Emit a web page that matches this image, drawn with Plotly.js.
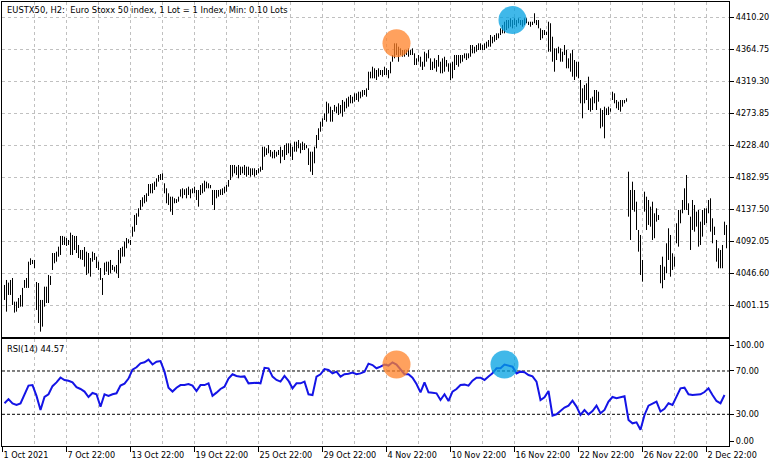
<!DOCTYPE html>
<html><head><meta charset="utf-8">
<script src="https://cdn.plot.ly/plotly-3.0.1.min.js"></script>
<style>html,body{margin:0;padding:0;background:#fff;overflow:hidden}#chart{width:781px;height:467px}</style>
</head><body><div id="chart"></div>
<script>
// H2 bars, high / low per bar (index = bar number)
const highs = [
4029.6,4036.7,4032.9,4036.7,4039.5,4005.9,4005.9,4011.1,4015.4,4025.4,
4036.7,4039.5,4062.7,4067.5,4065.1,4065.1,4033.8,4032.4,4008.3,4008.3,
4027.2,4027.2,4043.8,4042.4,4075.0,4075.0,4076.9,4084.0,4099.2,4099.2,
4098.2,4096.3,4093.5,4103.9,4100.6,4099.2,4099.2,4086.4,4079.3,4079.3,
4083.5,4076.9,4075.0,4067.9,4076.9,4075.0,4069.8,4062.7,4053.7,4039.5,
4061.3,4062.7,4062.7,4065.1,4058.0,4055.6,4058.0,4079.3,4082.1,4084.0,
4091.1,4096.3,4094.5,4093.5,4112.4,4129.0,4131.4,4138.5,4150.3,4154.1,
4157.4,4159.8,4173.0,4173.0,4174.0,4176.3,4181.1,4185.8,4187.2,4188.2,
4174.0,4166.9,4159.8,4155.0,4155.0,4152.7,4151.5,4155.0,4165.5,4166.9,
4165.5,4166.9,4169.2,4165.5,4166.9,4169.2,4164.5,4164.5,4171.6,4174.0,
4177.7,4176.3,4174.0,4171.6,4164.5,4164.5,4164.5,4164.5,4165.5,4166.9,
4169.2,4171.6,4178.7,4200.0,4200.0,4200.0,4197.6,4200.0,4197.6,4197.6,
4200.0,4197.6,4197.6,4195.3,4195.3,4195.3,4192.9,4195.3,4197.6,4226.0,
4226.0,4223.7,4228.4,4221.3,4218.9,4221.3,4218.9,4221.3,4226.0,4221.3,
4228.4,4230.8,4230.8,4230.8,4226.0,4233.1,4233.1,4235.5,4230.8,4233.1,
4230.8,4228.4,4223.7,4218.9,4218.9,4226.0,4242.6,4252.1,4261.5,4266.3,
4273.4,4289.9,4287.6,4282.8,4278.1,4285.2,4282.8,4287.6,4285.2,4292.3,
4289.9,4294.7,4297.0,4299.4,4297.0,4301.8,4301.8,4304.1,4304.1,4306.5,
4306.5,4308.9,4332.5,4332.5,4339.6,4337.3,4334.9,4337.3,4334.9,4334.9,
4339.6,4337.3,4334.9,4346.7,4356.2,4372.8,4372.8,4368.0,4365.7,4363.3,
4363.3,4363.3,4365.7,4363.3,4365.7,4358.6,4351.5,4356.2,4353.8,4346.7,
4360.9,4358.6,4363.3,4351.5,4346.7,4351.5,4349.1,4356.2,4346.7,4351.5,
4353.8,4349.1,4344.4,4344.4,4346.7,4356.2,4356.2,4356.2,4356.2,4356.2,
4358.6,4358.6,4358.6,4370.4,4370.4,4368.0,4370.4,4372.8,4372.8,4370.4,
4372.8,4375.1,4377.5,4384.6,4382.2,4384.6,4387.0,4387.0,4394.1,4398.8,
4403.5,4405.9,4405.9,4408.4,4405.9,4408.4,4405.9,4408.4,4405.9,4405.9,
4408.4,4408.4,4403.5,4403.5,4403.5,4415.5,4405.9,4405.9,4394.1,4391.7,
4391.7,4389.3,4403.5,4401.3,4382.2,4365.7,4365.7,4368.0,4365.7,4360.9,
4370.4,4363.3,4351.5,4358.6,4363.3,4349.1,4346.7,4346.7,4320.7,4308.9,
4313.6,4316.0,4325.4,4294.7,4297.0,4306.5,4306.5,4304.1,4280.5,4278.1,
4282.8,4280.5,4282.8,4280.5,4304.1,4301.8,4292.3,4289.9,4292.3,4292.3,
4292.3,4294.7,4190.5,4164.5,4176.3,4164.5,4147.9,4107.7,4100.6,4065.1,
4162.1,4155.0,4150.3,4140.8,4147.9,4131.4,4138.5,4129.0,4058.0,4069.8,
4055.6,4088.8,4110.1,4100.6,4074.6,4069.8,4117.2,4136.1,4136.1,4150.3,
4166.9,4185.8,4145.6,4126.6,4150.3,4143.2,4133.7,4136.1,4119.5,4136.1,
4138.5,4138.5,4150.3,4152.7,4124.3,4112.4,4093.5,4081.7,4079.3,4086.4,
4119.5,4114.8];
const lows = [
4008.3,3991.7,4015.4,4015.4,4001.2,3990.3,3991.7,3996.9,3998.8,3998.8,
4025.4,4025.4,4025.4,4058.0,4059.4,4053.7,3994.1,3975.6,3963.3,3970.4,
3998.8,4004.0,4004.0,4029.6,4050.9,4060.4,4062.7,4069.8,4072.2,4086.4,
4086.4,4085.0,4086.4,4072.2,4072.2,4079.3,4075.0,4067.9,4066.1,4065.1,
4055.6,4043.8,4046.2,4041.4,4062.7,4065.1,4053.7,4050.9,4036.7,4015.4,
4043.8,4048.5,4043.8,4046.2,4050.9,4048.5,4046.2,4039.5,4060.4,4069.8,
4069.8,4081.7,4088.8,4086.4,4098.2,4105.3,4114.8,4126.6,4136.1,4140.8,
4145.6,4147.9,4156.0,4159.8,4159.8,4164.5,4169.2,4176.3,4178.7,4178.7,
4159.8,4145.6,4143.2,4133.7,4129.0,4145.6,4146.0,4147.9,4155.0,4152.7,
4157.4,4152.7,4157.4,4152.7,4159.8,4159.8,4150.3,4140.8,4157.4,4159.8,
4162.1,4166.9,4166.9,4166.9,4143.2,4136.1,4152.7,4155.0,4157.4,4157.4,
4159.8,4162.1,4169.2,4178.7,4183.4,4188.2,4185.8,4181.1,4185.8,4188.2,
4185.8,4183.4,4185.8,4183.4,4185.8,4183.4,4185.8,4188.2,4190.5,4192.9,
4211.8,4214.2,4216.6,4211.8,4209.5,4209.5,4211.8,4214.2,4202.4,4211.8,
4207.1,4214.2,4216.6,4211.8,4207.1,4218.9,4218.9,4223.7,4216.6,4221.3,
4221.3,4223.7,4200.0,4190.5,4185.8,4202.4,4223.7,4235.5,4247.3,4254.4,
4263.9,4261.5,4273.4,4261.5,4261.5,4275.7,4273.4,4271.0,4273.4,4268.6,
4275.7,4280.5,4282.8,4287.6,4287.6,4289.9,4292.3,4289.9,4294.7,4297.0,
4299.4,4297.0,4306.5,4323.1,4323.1,4323.1,4320.7,4325.4,4327.8,4325.4,
4327.8,4327.8,4323.1,4330.2,4346.7,4351.5,4356.2,4346.7,4356.2,4353.8,
4353.8,4356.2,4353.8,4356.2,4356.2,4342.0,4342.0,4346.7,4339.6,4334.9,
4339.6,4346.7,4351.5,4334.9,4334.9,4337.3,4332.5,4339.6,4330.2,4330.2,
4332.5,4339.6,4332.5,4320.7,4323.1,4334.9,4342.0,4339.6,4344.4,4346.7,
4351.5,4349.1,4351.5,4353.8,4358.6,4358.6,4360.9,4363.3,4363.3,4363.3,
4363.3,4365.7,4368.0,4368.0,4372.8,4375.1,4377.5,4379.9,4384.6,4387.0,
4387.0,4391.7,4394.1,4396.4,4394.1,4398.8,4396.4,4401.3,4398.8,4396.4,
4398.8,4401.3,4398.8,4396.4,4398.8,4401.3,4398.8,4394.1,4377.5,4379.9,
4384.6,4384.6,4360.9,4360.9,4346.7,4332.5,4349.1,4358.6,4346.7,4346.7,
4356.2,4337.3,4337.3,4332.5,4325.4,4320.7,4325.4,4323.1,4287.6,4266.3,
4287.6,4292.3,4278.1,4275.7,4278.1,4287.6,4278.1,4289.9,4252.1,4254.4,
4237.9,4271.0,4271.0,4275.7,4292.3,4287.6,4280.5,4278.1,4275.7,4282.8,
4287.6,4289.9,4126.6,4093.5,4136.1,4133.7,4107.7,4076.9,4043.8,4034.3,
4133.7,4107.7,4114.8,4112.4,4093.5,4096.0,4119.5,4121.9,4032.0,4024.9,
4036.7,4046.2,4065.1,4041.4,4050.9,4055.6,4088.8,4084.0,4117.2,4131.4,
4136.1,4136.1,4129.0,4079.3,4107.7,4105.3,4112.4,4084.0,4086.4,4098.2,
4114.8,4117.2,4131.4,4105.3,4088.8,4100.6,4062.7,4053.3,4053.3,4053.3,
4100.6,4081.7];
// RSI(14), read every second bar
const rsiValues = [
40.2,44,40,38.6,40,48.5,56.5,57,47,34,
46,48.5,56,59.5,64,61.7,61,59.5,55,53.4,
51,46,49.7,48.5,37,48.5,47,48.5,49.4,56.5,
58.3,63,71.2,73.4,77.1,78,80.5,76,78.6,79.2,
69.4,54.6,51,54.6,57,57,58,56.5,51.5,57,
57,58.6,47,50,53.4,55.5,63,67,65.4,64.8,
65,58.6,59.2,59.2,58.6,73,72.5,64.8,61.7,60.2,
65.4,61,54,58.6,58.6,60.2,48.5,47.8,64.8,67,
71.8,71,67.8,69.4,64.8,67,67.5,68.5,67,67.8,
69.4,76.8,75.5,72.5,74,76,75,
78,76,71,67,67,63.8,58,50.3,59.5,50.3,
50,49.4,43.2,48.5,42.3,51,53.4,57,57.4,56.5,
61,63.8,63.8,61.7,65,67.8,72.5,72.5,76,75,
74,67.8,69.4,68.8,66.3,65,60.2,43.2,45.7,51.5,
28.8,30,33,36.2,38,42.6,37.1,29.4,34,30,
33,38,31,34,41.7,46,44.8,46,46.6,24.8,
21.7,22.6,15.8,29.4,38,39.8,41.7,32.5,35,40.2,
38.6,46.3,54,54.6,48.5,47.8,48.5,48.5,50.6,54,
47.8,42.3,40.2,47.8];
const rsiStep = 2;
const timeLabels = ['1 Oct 2021','7 Oct 22:00','13 Oct 22:00','19 Oct 22:00','25 Oct 22:00','29 Oct 22:00',
  '4 Nov 22:00','10 Nov 22:00','16 Nov 22:00','22 Nov 22:00','26 Nov 22:00','2 Dec 22:00'];
const firstLabelBar = -1, labelSpacing = 32, gridSpacing = 16;
const priceTick0 = 4001.15, priceTickStep = 45.45, priceTickCount = 10;
const rsiLevels = [70, 30];
const rsiTickVals = [94, 70, 30, 5.3];
const rsiTickText = ['100.00', '70.00', '30.00', '0.00'];
const priceMarkBars = [196, 254];
const rsiMarkBars = [196, 250];
const markColors = ['rgba(255,130,40,0.75)', 'rgba(0,160,225,0.75)'];
const chartTitle = 'EUSTX50, H2:\u00a0 Euro Stoxx 50 index, 1 Lot = 1 Index, Min: 0.10 Lots';
const rsiTitle = 'RSI(14) 44.57';

const FONT = 'DejaVu Sans Condensed, Liberation Sans, sans-serif';
const GRID = '#c0c0c0';

const bx = [], by = [];
highs.forEach((h, i) => { bx.push(i, i, null); by.push(h, lows[i], null); });
const rsiX = rsiValues.map((_, j) => j * rsiStep);
const tickBars = timeLabels.map((_, i) => firstLabelBar + labelSpacing * i);
const priceTicks = Array.from({length: priceTickCount}, (_, i) => +(priceTick0 + priceTickStep * i).toFixed(2));
const nBars = highs.length;
const xRange = [-1.25, 362.25];

const traces = [
  {type: 'scatter', mode: 'lines', x: bx, y: by, xaxis: 'x', yaxis: 'y',
   line: {color: '#000', width: 1}, hoverinfo: 'skip', connectgaps: false},
  {type: 'scatter', mode: 'markers', x: priceMarkBars, y: priceMarkBars.map(b => highs[b]),
   xaxis: 'x', yaxis: 'y', marker: {size: 28, color: markColors, line: {width: 0}}, hoverinfo: 'skip'},
  {type: 'scatter', mode: 'lines', x: rsiX, y: rsiValues, xaxis: 'x2', yaxis: 'y2',
   line: {color: '#1414e6', width: 2}, hoverinfo: 'skip'},
  {type: 'scatter', mode: 'markers', x: rsiMarkBars, y: rsiMarkBars.map(b => rsiValues[b / rsiStep]),
   xaxis: 'x2', yaxis: 'y2', marker: {size: 28, color: markColors, line: {width: 0}}, hoverinfo: 'skip'}
];

const gridVals = [];
for (let v = firstLabelBar; v <= nBars; v += gridSpacing) gridVals.push(v);

const layout = {
  width: 781, height: 467,
  margin: {l: 2, r: 52, t: 2, b: 21, pad: 0},
  paper_bgcolor: '#fff', plot_bgcolor: '#fff',
  showlegend: false, hovermode: false,
  font: {family: FONT, size: 9, color: '#000'},
  xaxis: {domain: [0, 1], anchor: 'y', range: xRange, tickmode: 'array', tickvals: gridVals,
    showticklabels: false, ticks: '', showgrid: true, gridcolor: GRID, griddash: '3px,3px', gridwidth: 1,
    showline: true, mirror: true, linecolor: '#000', linewidth: 1, zeroline: false, automargin: false},
  yaxis: {domain: [0.2455, 1], anchor: 'x', side: 'right', range: [3955.7, 4431.5],
    tickmode: 'array', tickvals: priceTicks, ticktext: priceTicks.map(v => v.toFixed(2)),
    ticks: 'outside', ticklen: 4, tickcolor: '#000', tickwidth: 1,
    showgrid: true, gridcolor: GRID, griddash: '3px,3px', gridwidth: 1,
    showline: true, mirror: true, linecolor: '#000', linewidth: 1, zeroline: false, automargin: false,
    tickfont: {family: FONT, size: 9, color: '#000'}},
  xaxis2: {domain: [0, 1], anchor: 'y2', range: xRange, tickmode: 'array', tickvals: tickBars, ticktext: timeLabels,
    ticks: 'outside', ticklen: 5, tickcolor: '#000', tickwidth: 1, ticklabelposition: 'outside right',
    showgrid: true, gridcolor: GRID, griddash: '3px,3px', gridwidth: 1,
    minor: {tickmode: 'linear', tick0: firstLabelBar, dtick: gridSpacing, showgrid: true, gridcolor: GRID, griddash: '3px,3px', ticks: ''},
    showline: true, mirror: true, linecolor: '#000', linewidth: 1, zeroline: false, automargin: false,
    tickfont: {family: FONT, size: 9, color: '#000'}},
  yaxis2: {domain: [0, 0.241], anchor: 'x2', side: 'right', range: [0.72, 99.56],
    tickmode: 'array', tickvals: rsiTickVals, ticktext: rsiTickText,
    ticks: 'outside', ticklen: 4, tickcolor: '#000', showgrid: false,
    showline: true, mirror: true, linecolor: '#000', linewidth: 1, zeroline: false, automargin: false,
    tickfont: {family: FONT, size: 9, color: '#000'}},
  shapes: rsiLevels.map(v => ({type: 'line', xref: 'x2 domain', yref: 'y2', x0: 0, x1: 1, y0: v, y1: v,
    line: {color: '#000', width: 1, dash: '3px,2px'}, layer: 'below'})),
  annotations: [
    {text: chartTitle, xref: 'paper', yref: 'paper', x: 0, y: 1, xanchor: 'left', yanchor: 'top',
     xshift: 3, yshift: 0, showarrow: false, font: {family: FONT, size: 9.3, color: '#000'}},
    {text: rsiTitle, xref: 'paper', yref: 'y2 domain', x: 0, y: 1, xanchor: 'left', yanchor: 'top',
     xshift: 3, yshift: -2, showarrow: false, font: {family: FONT, size: 9.3, color: '#000'}}
  ]
};

Plotly.newPlot('chart', traces, layout, {staticPlot: true, displayModeBar: false});
</script>
</body></html>
